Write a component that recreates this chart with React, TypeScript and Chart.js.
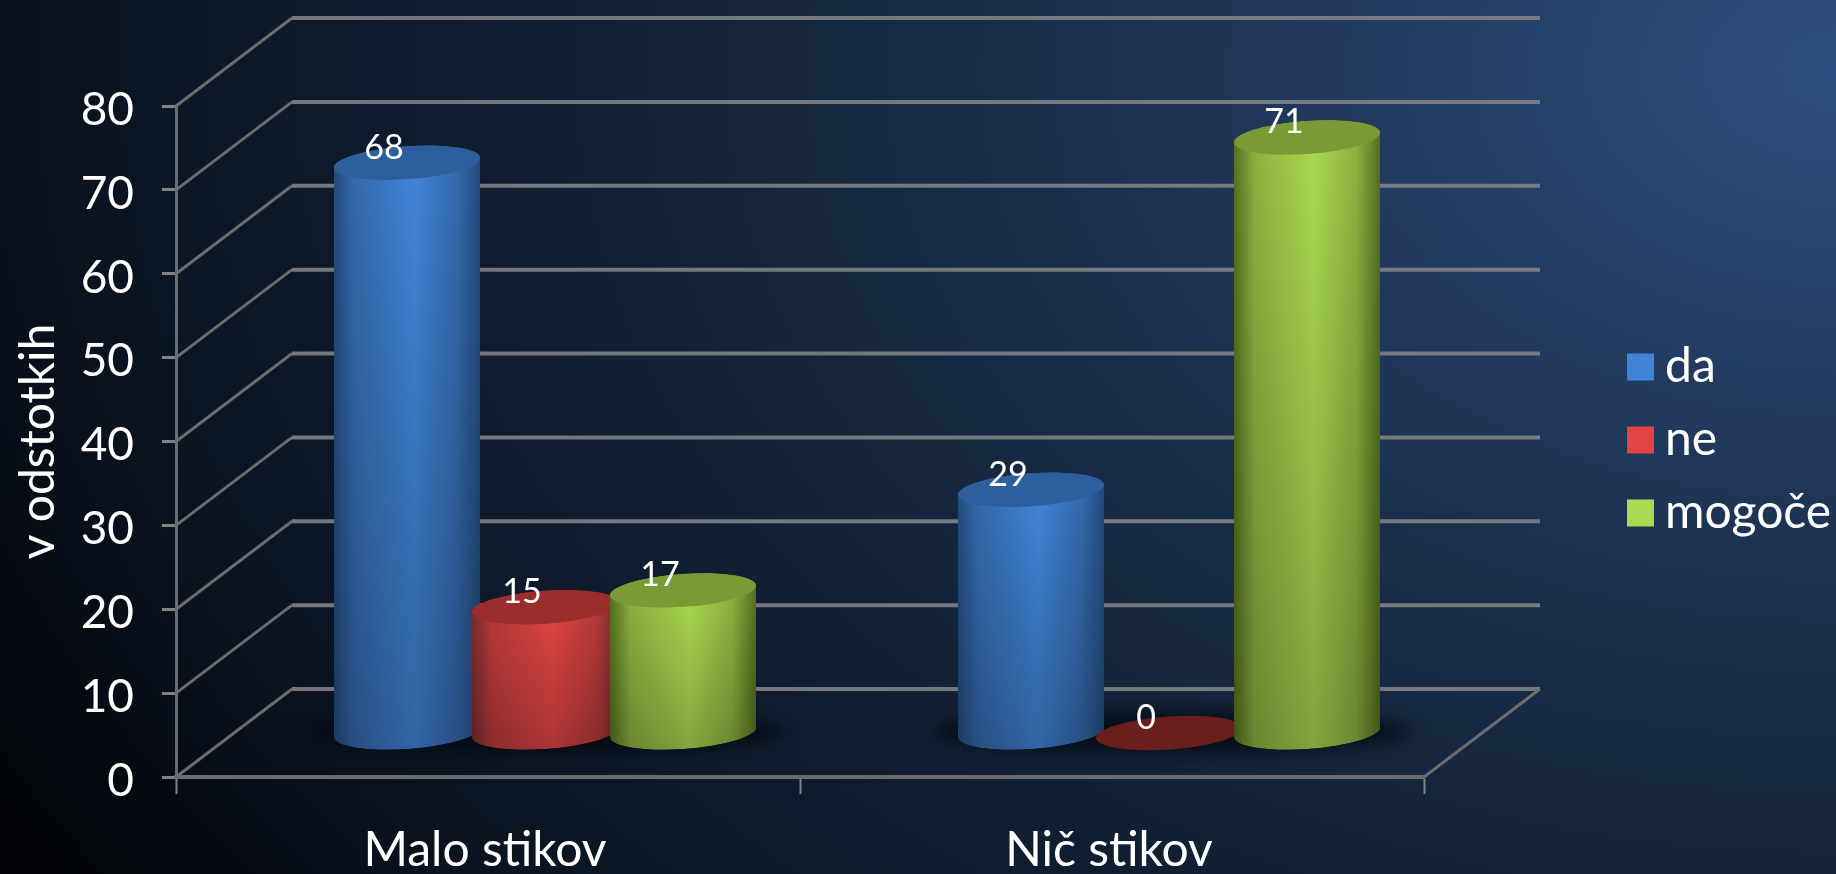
import React, { useEffect, useRef } from "react";
import { Chart, registerables } from "chart.js";

Chart.register(...registerables);

const categories = ["Malo stikov", "Nič stikov"];
const seriesNames = ["da", "ne", "mogoče"];
const da = [68, 29];
const ne = [15, 0];
const mogoce = [17, 71];

const FONT = "Lato";
const DEPTH_X = 116;
const DEPTH_Y = -88;
const BAR_SHIFT_X = 57;
const CAT_PCT = 0.6635;
const BAR_PCT = 1.058;
const TILT = 0.07;
const RY = 16.5;

const palette = [
  { edge: "#234c7c", mid: "#3569ad", bright: "#4084d8", top: "#2d5f9f", floor: "#2d5f9f" },
  { edge: "#7a2a2b", mid: "#b83a3a", bright: "#e04543", top: "#9b2e2c", floor: "#6a1f1d" },
  { edge: "#566e20", mid: "#8cb03f", bright: "#abd951", top: "#7a9a35", floor: "#7a9a35" },
];

function sideGradient(ctx: CanvasRenderingContext2D, x: number, w: number, i: number) {
  const p = palette[i];
  const g = ctx.createLinearGradient(x - w / 2, 0, x + w / 2, 0);
  g.addColorStop(0, p.edge);
  g.addColorStop(0.14, p.mid);
  g.addColorStop(0.55, p.bright);
  g.addColorStop(0.84, p.mid);
  g.addColorStop(1, p.edge);
  return g;
}

function cylinderPath(ctx: CanvasRenderingContext2D, x: number, w: number, yTop: number, yBot: number) {
  const rx = w / 2;
  const tilt = rx * Math.tan(TILT);
  const rr = rx / Math.cos(TILT);
  ctx.moveTo(x - rx, yTop + tilt);
  ctx.lineTo(x - rx, yBot + tilt);
  ctx.ellipse(x, yBot, rr, RY, -TILT, Math.PI, 0, true);
  ctx.lineTo(x + rx, yTop - tilt);
  ctx.ellipse(x, yTop, rr, RY, -TILT, 0, Math.PI, true);
  ctx.closePath();
}

const cylinderPlugin = {
  id: "cylinderPlugin",
  beforeLayout(chart: any) {
    const legend = chart.legend;
    if (!legend.__patched) {
      const fit = legend.fit;
      legend.fit = function () {
        fit.call(this);
        this.width = 1836 - 1424;
      };
      legend.__patched = true;
    }
  },
  afterLayout(chart: any) {
    const legend = chart.legend;
    legend.left = 1615;
    legend.right = 1836;
    legend.top = 0;
    legend.bottom = 880;
    legend.adjustHitBoxes();
    const ctx = chart.ctx;
    (legend.legendItems || []).forEach((item: any, i: number) => {
      const hit = legend.legendHitBoxes[i];
      const c = hit.top + hit.height / 2;
      const g = ctx.createLinearGradient(0, c - 13, 0, c + 13);
      g.addColorStop(0, palette[i].bright);
      g.addColorStop(1, palette[i].edge);
      item.fillStyle = g;
      item.strokeStyle = g;
    });
  },
  beforeDatasetDraw() {
    return false;
  },
  beforeDatasetsDraw(chart: any) {
    const { ctx, scales } = chart;
    const xs = scales.x;
    const ys = scales.y;
    const x0 = xs.left;
    const x1 = xs.right;
    ctx.save();
    ys.ticks.forEach((t: any) => {
      const y = ys.getPixelForValue(t.value);
      ctx.beginPath();
      ctx.moveTo(x0, y);
      ctx.lineTo(x0 + DEPTH_X, y + DEPTH_Y);
      ctx.strokeStyle = "#6a6c70";
      ctx.lineWidth = 3;
      ctx.stroke();
      ctx.beginPath();
      ctx.moveTo(x0 + DEPTH_X, y + DEPTH_Y);
      ctx.lineTo(x1 + DEPTH_X, y + DEPTH_Y);
      ctx.strokeStyle = "rgba(128,130,134,0.9)";
      ctx.lineWidth = 4;
      ctx.stroke();
    });
    const y0 = ys.getPixelForValue(0);
    ctx.beginPath();
    ctx.moveTo(x1, y0);
    ctx.lineTo(x1 + DEPTH_X, y0 + DEPTH_Y);
    ctx.strokeStyle = "#6a6c70";
    ctx.lineWidth = 3;
    ctx.stroke();

    // floor shadows
    ctx.translate(BAR_SHIFT_X, DEPTH_Y / 2);
    ctx.filter = "blur(8px)";
    ctx.fillStyle = "rgba(4,9,18,0.85)";
    categories.forEach((_, i) => {
      const cx = xs.getPixelForValue(i);
      ctx.beginPath();
      ctx.ellipse(cx + 2, y0 - 1, 240, 21, 0, 0, Math.PI * 2);
      ctx.fill();
    });
    ctx.filter = "none";
    ctx.restore();

    // the library draws each bar body; the plugin rounds it into a cylinder
    [0, 1, 2].forEach((di) => {
      const meta = chart.getDatasetMeta(di);
      ctx.save();
      ctx.translate(BAR_SHIFT_X, DEPTH_Y / 2);
      ctx.beginPath();
      meta.data.forEach((b: any, i: number) => {
        const v = chart.data.datasets[di].data[i];
        if (v > 0) cylinderPath(ctx, b.x, b.width, b.y, b.base);
      });
      ctx.clip();
      meta.data.forEach((b: any, i: number) => {
        const v = chart.data.datasets[di].data[i];
        if (v > 0) {
          ctx.beginPath();
          cylinderPath(ctx, b.x, b.width, b.y, b.base);
          ctx.fillStyle = sideGradient(ctx, b.x, b.width, di);
          ctx.fill();
        }
      });
      meta.controller.draw();
      ctx.restore();

      ctx.save();
      ctx.translate(BAR_SHIFT_X, DEPTH_Y / 2);
      meta.data.forEach((b: any, i: number) => {
        const v = chart.data.datasets[di].data[i];
        if (v > 0) {
          const g = ctx.createLinearGradient(0, b.y, 0, b.base + RY);
          g.addColorStop(0, "rgba(0,0,0,0)");
          g.addColorStop(1, "rgba(0,0,0,0.24)");
          ctx.beginPath();
          cylinderPath(ctx, b.x, b.width, b.y, b.base);
          ctx.fillStyle = g;
          ctx.fill();
        }
        ctx.beginPath();
        ctx.ellipse(b.x, b.y, (b.width / 2) / Math.cos(TILT), RY, -TILT, 0, Math.PI * 2);
        ctx.fillStyle = v > 0 ? palette[di].top : palette[di].floor;
        ctx.fill();
      });
      ctx.restore();
    });
  },
  afterDatasetsDraw(chart: any) {
    const { ctx } = chart;
    ctx.save();
    ctx.translate(BAR_SHIFT_X, DEPTH_Y / 2);
    ctx.fillStyle = "#ffffff";
    ctx.font = `34px ${FONT}`;
    ctx.textAlign = "center";
    ctx.textBaseline = "middle";
    [0, 1, 2].forEach((di) => {
      chart.getDatasetMeta(di).data.forEach((b: any, i: number) => {
        ctx.fillText(String(chart.data.datasets[di].data[i]), b.x - 23, b.y - 15);
      });
    });
    ctx.restore();
  },
};

function makeDataset(label: string, data: number[], i: number) {
  return {
    label,
    data,
    clip: false,
    backgroundColor: (c: any) => {
      const chart = c.chart;
      if (c.dataIndex === undefined || !chart.scales.x) return palette[i].bright;
      const xs = chart.scales.x;
      const step = ((xs.width / categories.length) * CAT_PCT) / 3;
      const x = xs.getPixelForValue(c.dataIndex) + (i - 1) * step;
      return sideGradient(chart.ctx, x, step * BAR_PCT, i);
    },
  };
}

export default function App() {
  const ref = useRef<HTMLCanvasElement>(null);
  useEffect(() => {
    const chart = new Chart(ref.current as HTMLCanvasElement, {
      type: "bar",
      data: {
        labels: categories,
        datasets: [
          makeDataset(seriesNames[0], da, 0),
          makeDataset(seriesNames[1], ne, 1),
          makeDataset(seriesNames[2], mogoce, 2),
        ],
      },
      plugins: [cylinderPlugin],
      options: {
        responsive: false,
        animation: false,
        layout: { padding: { top: 106, left: 0, right: 0, bottom: 0 } },
        datasets: { bar: { categoryPercentage: CAT_PCT, barPercentage: BAR_PCT } },
        plugins: {
          tooltip: { enabled: false },
          legend: {
            position: "right",
            align: "center",
            labels: {
              color: "#ffffff",
              font: { family: FONT, size: 48, lineHeight: 1 },
              boxWidth: 1,
              boxHeight: 1,
              padding: 25,
              generateLabels: () =>
                seriesNames.map((name, i) => ({
                  text: name,
                  fillStyle: palette[i].bright,
                  strokeStyle: palette[i].bright,
                  lineWidth: 26,
                  lineJoin: "miter",
                  datasetIndex: i,
                  fontColor: "#ffffff",
                })),
            },
          },
        },
        scales: {
          x: {
            afterFit: (s: any) => {
              s.height = 97;
            },
            border: { color: "#6a6c70", width: 4 },
            grid: { offset: true, drawOnChartArea: false, drawTicks: true, tickLength: 17, color: "#808286", tickWidth: 2 },
            ticks: { color: "#ffffff", font: { family: FONT, size: 48 }, padding: 28, maxRotation: 0, labelOffset: -3 },
          },
          y: {
            min: 0,
            max: 80,
            afterFit: (s: any) => {
              s.width = 176;
            },
            border: { color: "#6a6c70", width: 3 },
            grid: { drawOnChartArea: false, drawTicks: true, tickLength: 14, color: "#808286", tickWidth: 3 },
            ticks: { stepSize: 10, color: "#ffffff", font: { family: FONT, size: 46 }, padding: 28, labelOffset: 4 },
            title: {
              display: true,
              text: "v odstotkih",
              color: "#ffffff",
              font: { family: FONT, size: 48 },
              padding: { top: 10, bottom: 0 },
            },
          },
        },
      },
    } as any);
    return () => chart.destroy();
  }, []);
  return (
    <div
      style={{
        position: "fixed",
        left: 0,
        top: 0,
        width: 1836,
        height: 874,
        overflow: "hidden",
        background:
          "radial-gradient(ellipse 115% 170% at 100% 8%, #2c4e7e 0%, #1a2e4a 38%, #101d30 65%, #0a121e 85%, #020408 100%)",
      }}
    >
      <canvas ref={ref} width={1836} height={874} style={{ display: "block" }} />
    </div>
  );
}
